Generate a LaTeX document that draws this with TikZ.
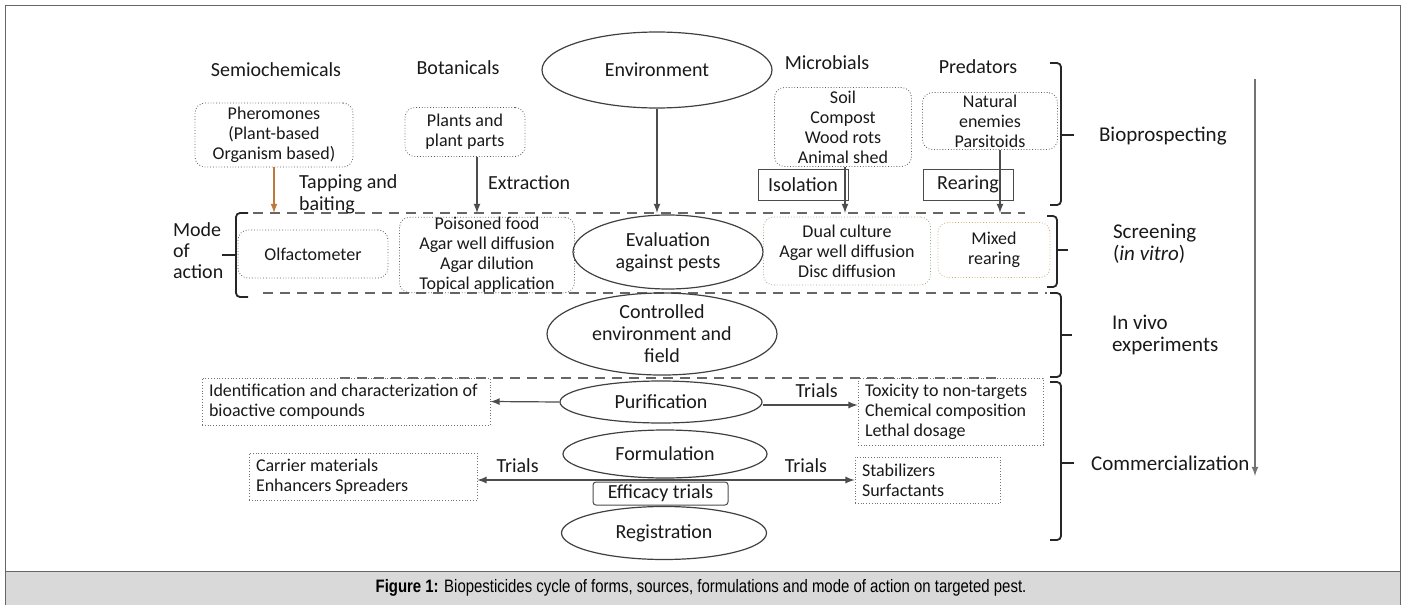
\documentclass[tikz,border=0pt]{standalone}
\usepackage{fontspec}
\setmainfont{Carlito}
\newfontfamily\capfont[FakeStretch=0.83]{Liberation Sans}
\usepackage{tikz}
\usetikzlibrary{arrows,positioning,shapes.geometric}
\definecolor{tapbrown}{RGB}{190,120,60}
\definecolor{dualgreen}{RGB}{140,175,130}
\definecolor{mixtan}{RGB}{205,170,100}
\definecolor{capgray}{RGB}{217,217,217}

\begin{document}
\begin{tikzpicture}[x=0.5pt, y=-0.5pt,
ell/.style={
		ellipse,
		draw=black!75, line width=0.6pt,
		inner sep=0pt, align=center, text=black!90,
		font=\fontsize{10}{11}\selectfont,
		},
dotbox/.style={
		draw=black!65, densely dotted,
		rounded corners=5pt,
		inner sep=0pt, align=center, text=black!90,
		font=\fontsize{9}{10}\selectfont,
		},
sqbox/.style={
		draw=black!55, densely dotted,
		inner xsep=3.5pt, inner ysep=0pt, align=flush left, text=black!90,
		font=\fontsize{9}{10}\selectfont,
		},
plainbox/.style={
		draw=black!70, line width=0.5pt,
		inner sep=0pt, text=black!90,
		font=\fontsize{10}{12}\selectfont,
		},
lbl/.style={text=black!90, align=left, font=\fontsize{10}{11}\selectfont},
arr/.style={->, >=latex, draw=black!70, line width=0.6pt},
brace/.style={draw=black!85, line width=0.9pt, rounded corners=2pt},
cut/.style={draw=black!60, line width=0.8pt, dash pattern=on 5pt off 3.5pt}
]

\useasboundingbox (0,0) rectangle (1405,605);

% frame and caption
\fill[capgray] (5,571) rectangle (1400,605);
\draw[black!60] (5,605) -- (5,5) -- (1400,5) -- (1400,605);
\draw[black!60] (5,571) -- (1400,571);
\node (caption) at (701,588) {\capfont\fontsize{9}{10}\selectfont
  \textbf{Figure 1:} Biopesticides cycle of forms, sources, formulations and mode of action on targeted pest.};

% sources
\node[lbl] (semio) at (276,70) {Semiochemicals};
\node[lbl] (bota) at (458,68) {Botanicals};
\node[lbl] (micro) at (827,63) {Microbials};
\node[lbl] (preda) at (978,67) {Predators};

\node[ell, minimum width=115pt, minimum height=38pt] (env) at (657,70) {Environment};

\node[dotbox, minimum width=79pt, minimum height=32pt] (pher) at (274,135)
  {Pheromones\\(Plant-based\\Organism based)};
\node[dotbox, minimum width=60pt, minimum height=24.5pt] (plant) at (465,132)
  {Plants and\\plant parts};
\node[dotbox, minimum width=68.5pt, minimum height=39.5pt] (soil) at (843,127)
  {Soil\\Compost\\Wood rots\\Animal shed};
\node[dotbox, minimum width=67.5pt, minimum height=28.5pt] (nat) at (990,121)
  {Natural\\enemies\\Parsitoids};

\node[plainbox, minimum width=45pt, minimum height=15.5pt] (iso) at (803,184.5) {Isolation};
\node[plainbox, minimum width=45pt, minimum height=15.5pt] (rear) at (968,184.5) {Rearing};

% screening band
\coordinate (cutA) at (0,213);
\draw[cut] (253,213) -- (1025,213);
\draw[cut] (263,293) -- (1047,293);
\draw[cut] (340,378) -- (1000,378);

\node[dotbox, minimum width=75pt, minimum height=24pt] (olf) at (313,254) {Olfactometer};
\node[dotbox, minimum width=87.5pt, minimum height=37.5pt] (poison) at (487,255)
  {Poisoned food\\Agar well diffusion\\Agar dilution\\Topical application};
\node[ell, minimum width=95pt, minimum height=37pt] (eval) at (668,252)
  {Evaluation\\against pests};
\node[dotbox, draw=dualgreen, minimum width=83.5pt, minimum height=34pt] (dual) at (847,251)
  {Dual culture\\Agar well diffusion\\Disc diffusion};
\node[dotbox, draw=mixtan, minimum width=56pt, minimum height=27.5pt] (mixed) at (994,250)
  {Mixed\\rearing};

\draw[arr, draw=tapbrown] (pher.south) -- (pher.south |- cutA);
\node[lbl, anchor=west] (tap) at (292,194) {Tapping and\\baiting};
\draw[arr] ([xshift=6pt]plant.south) -- ([xshift=6pt]plant.south |- cutA);
\node[lbl, anchor=west] (extr) at (481,183) {Extraction};
\draw[arr] (env.south) -- (env.south |- cutA);
\draw[arr] ([xshift=1pt]soil.south) -- ([xshift=1pt]soil.south |- cutA);
\draw[arr] ([xshift=5pt]nat.south) -- ([xshift=5pt]nat.south |- cutA);

% mode of action
\draw[brace] (248,213) -- (236,213) -- (236,297) -- (248,297);
\draw[brace] (236,255) -- (222,255);
\node[lbl, anchor=west, font=\fontsize{10}{10.5}\selectfont] (mode) at (166,251) {Mode\\of\\action};

% in vivo and commercialization
\node[ell, minimum width=115pt, minimum height=39pt] (ctrl) at (662,334)
  {Controlled\\environment and\\field};
\node[ell, minimum width=101pt, minimum height=21pt] (puri) at (661,402) {Purification};
\node[ell, minimum width=102pt, minimum height=24pt] (formu) at (665,454) {Formulation};
\node[plainbox, rounded corners=1.5pt, minimum width=67.5pt, minimum height=11.5pt] (eff) at (660.5,493.5)
  {Efficacy trials};
\node[ell, minimum width=102.5pt, minimum height=26.5pt] (regis) at (664,533) {Registration};

\node[sqbox, text width=137pt, minimum height=23.5pt] (ident) at (346,401.5)
  {Identification and characterization of\\bioactive compounds};
\node[sqbox, text width=85.5pt, minimum height=33.5pt] (toxic) at (950.5,411.5)
  {Toxicity to non-targets\\Chemical composition\\Lethal dosage};
\node[sqbox, text width=107pt, minimum height=23.5pt] (carrier) at (363,476.5)
  {Carrier materials\\Enhancers Spreaders};
\node[sqbox, text width=65.5pt, minimum height=23pt] (stab) at (927.5,480)
  {Stabilizers\\Surfactants};

\draw[arr] (puri.west) -- (ident.east);
\draw[arr] ([yshift=-1.5pt]puri.east) -- ([yshift=-1.5pt]puri.east -| toxic.west)
  node[lbl, pos=0.57, above] (tr1) {Trials};
\coordinate (trial) at (660,480);
\draw[arr] (trial) -- (trial -| carrier.east) node[lbl, pos=0.78, above] (tr2) {Trials};
\draw[arr] (trial) -- (trial -| stab.west) node[lbl, pos=0.75, above] (tr3) {Trials};

% stages
\draw[brace] (1050,63) -- (1061,63) -- (1061,205) -- (1050,205);
\draw[brace] (1061,135) -- (1074,135);
\node[lbl, anchor=west, font=\fontsize{10.5}{12}\selectfont] (biop) at (1092,136) {Bioprospecting};

\draw[brace] (1047,216) -- (1057,216) -- (1057,287) -- (1047,287);
\draw[brace] (1057,250) -- (1068,250);
\node[lbl, anchor=west, font=\fontsize{10.5}{11}\selectfont] (scree) at (1106,244)
  {Screening\\(\textit{in vitro})};

\draw[brace] (1050,293) -- (1061,293) -- (1061,377) -- (1050,377);
\draw[brace] (1061,335) -- (1072,335);
\node[lbl, anchor=west, font=\fontsize{10.5}{11}\selectfont] (vivo) at (1105,335)
  {In vivo\\experiments};

\draw[brace] (1050,382) -- (1061,382) -- (1061,540) -- (1050,540);
\draw[brace] (1061,463) -- (1074,463);
\node[lbl, anchor=west, font=\fontsize{10.5}{12}\selectfont] (comm) at (1084,463) {Commercialization};

\coordinate (flowtop) at (1255,79);
\coordinate (flowend) at (1255,476);
\draw[arr, draw=black!55] (flowtop) -- (flowend);

\end{tikzpicture}
\end{document}
